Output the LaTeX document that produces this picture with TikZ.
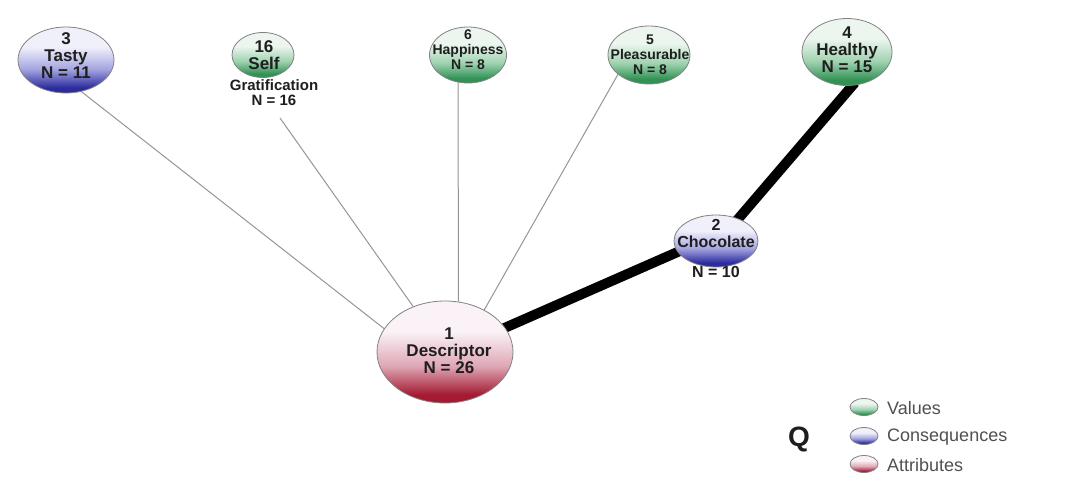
\documentclass[tikz,border=0pt]{standalone}
\usepackage{fontspec}
\setmainfont{Liberation Sans}
\usetikzlibrary{shapes.geometric,backgrounds}
\definecolor{valdark}{RGB}{48,146,84}
\definecolor{valmid}{RGB}{160,210,176}
\definecolor{vallight}{RGB}{236,246,239}
\definecolor{condark}{RGB}{44,44,158}
\definecolor{conmid}{RGB}{164,164,224}
\definecolor{conlight}{RGB}{240,240,251}
\definecolor{attdark}{RGB}{164,26,50}
\definecolor{attmid}{RGB}{222,166,180}
\definecolor{attlight}{RGB}{250,242,246}
\definecolor{ellgray}{RGB}{130,130,130}
\definecolor{edgegray}{RGB}{150,150,150}
\definecolor{txt}{RGB}{30,30,30}
\definecolor{legtxt}{RGB}{80,80,80}
\pgfdeclareverticalshading{valshade}{100bp}{color(0bp)=(valdark); color(29bp)=(valdark); color(43bp)=(valmid); color(60bp)=(vallight); color(100bp)=(vallight)}
\pgfdeclareverticalshading{conshade}{100bp}{color(0bp)=(condark); color(29bp)=(condark); color(43bp)=(conmid); color(60bp)=(conlight); color(100bp)=(conlight)}
\pgfdeclareverticalshading{attshade}{100bp}{color(0bp)=(attdark); color(29bp)=(attdark); color(43bp)=(attmid); color(60bp)=(attlight); color(100bp)=(attlight)}
\begin{document}
\begin{tikzpicture}[x=1pt,y=-1pt,
  ell/.style={ellipse, draw=ellgray, line width=0.8pt, inner sep=0pt, shade},
  valnode/.style={ell, shading=valshade},
  connode/.style={ell, shading=conshade},
  attnode/.style={ell, shading=attshade},
  lab/.style={align=center, font=\bfseries\fontsize{17}{17}\selectfont, text=txt, inner sep=0pt},
  smalllab/.style={align=center, font=\bfseries\fontsize{14}{15}\selectfont, text=txt, inner sep=0pt},
  legtext/.style={anchor=west, font=\fontsize{18}{18}\selectfont, text=legtxt, inner sep=0pt},
  thinedge/.style={draw=edgegray, line width=1pt},
  thickedge/.style={draw=black, line width=10pt, shorten <=-4pt, shorten >=-4pt}
]
\begin{pgfonlayer}{background}
\fill[white] (0,0) rectangle (1079,484);
\end{pgfonlayer}
\useasboundingbox (0,0) rectangle (1079,484);

% ellipses
\node[connode, minimum width=96pt, minimum height=66pt] (tasty) at (66,60) {};
\node[valnode, minimum width=62pt, minimum height=45pt] (self) at (263,55) {};
\node[valnode, minimum width=77pt, minimum height=56pt] (happy) at (468,55) {};
\node[valnode, minimum width=82pt, minimum height=58pt] (pleas) at (649,55) {};
\node[valnode, minimum width=90pt, minimum height=67pt] (healthy) at (847,52) {};
\node[connode, minimum width=84pt, minimum height=52pt] (choc) at (716,241) {};
\node[attnode, minimum width=136pt, minimum height=102pt] (desc) at (445,352) {};

% texts
\node[lab] (tastyt) at (66,56) {3\\Tasty\\N = 11};
\node[lab] (selft) at (264,55) {16\\Self};
\node[smalllab, font=\bfseries\fontsize{15}{15}\selectfont] (gratt) at (274,93) {Gratification\\N = 16};
\node[smalllab] (happyt) at (468,50) {6\\Happiness\\N = 8};
\node[smalllab] (pleast) at (650,55) {5\\Pleasurable\\N = 8};
\node[lab] (healthyt) at (847,50) {4\\Healthy\\N = 15};
\node[lab, font=\bfseries\fontsize{16}{17}\selectfont] (choct) at (716,233) {2\\Chocolate};
\node[lab, font=\bfseries\fontsize{16}{17}\selectfont] (chocn) at (716,272) {N = 10};
\node[lab] (desct) at (449,351) {1\\Descriptor\\N = 26};

\coordinate (selfend) at (280,118);

% connectors
\begin{pgfonlayer}{background}
\draw[thinedge] (tasty.-64) -- (desc.159);
\draw[thinedge] (selfend) -- (desc.125);
\draw[thinedge] (happy.-110) -- (desc.75);
\draw[thinedge] (pleas.-148) -- (desc.47);
\draw[thickedge] (desc.22) -- (choc.-164);
\draw[thickedge] (choc.45) -- (healthy.-81);
\end{pgfonlayer}

% legend
\node[font=\bfseries\fontsize{28}{28}\selectfont, text=txt, inner sep=0pt] (q) at (799,439) {Q};
\node[valnode, minimum width=28pt, minimum height=17pt] (legval) at (864,407) {};
\node[connode, minimum width=28pt, minimum height=17pt] (legcon) at (864,436) {};
\node[attnode, minimum width=28pt, minimum height=17pt] (legatt) at (864,464) {};
\node[legtext] (legvalt) at (887,408) {Values};
\node[legtext] (legcont) at (887,437) {Consequences};
\node[legtext] (legattt) at (887,465) {Attributes};
\end{tikzpicture}
\end{document}
